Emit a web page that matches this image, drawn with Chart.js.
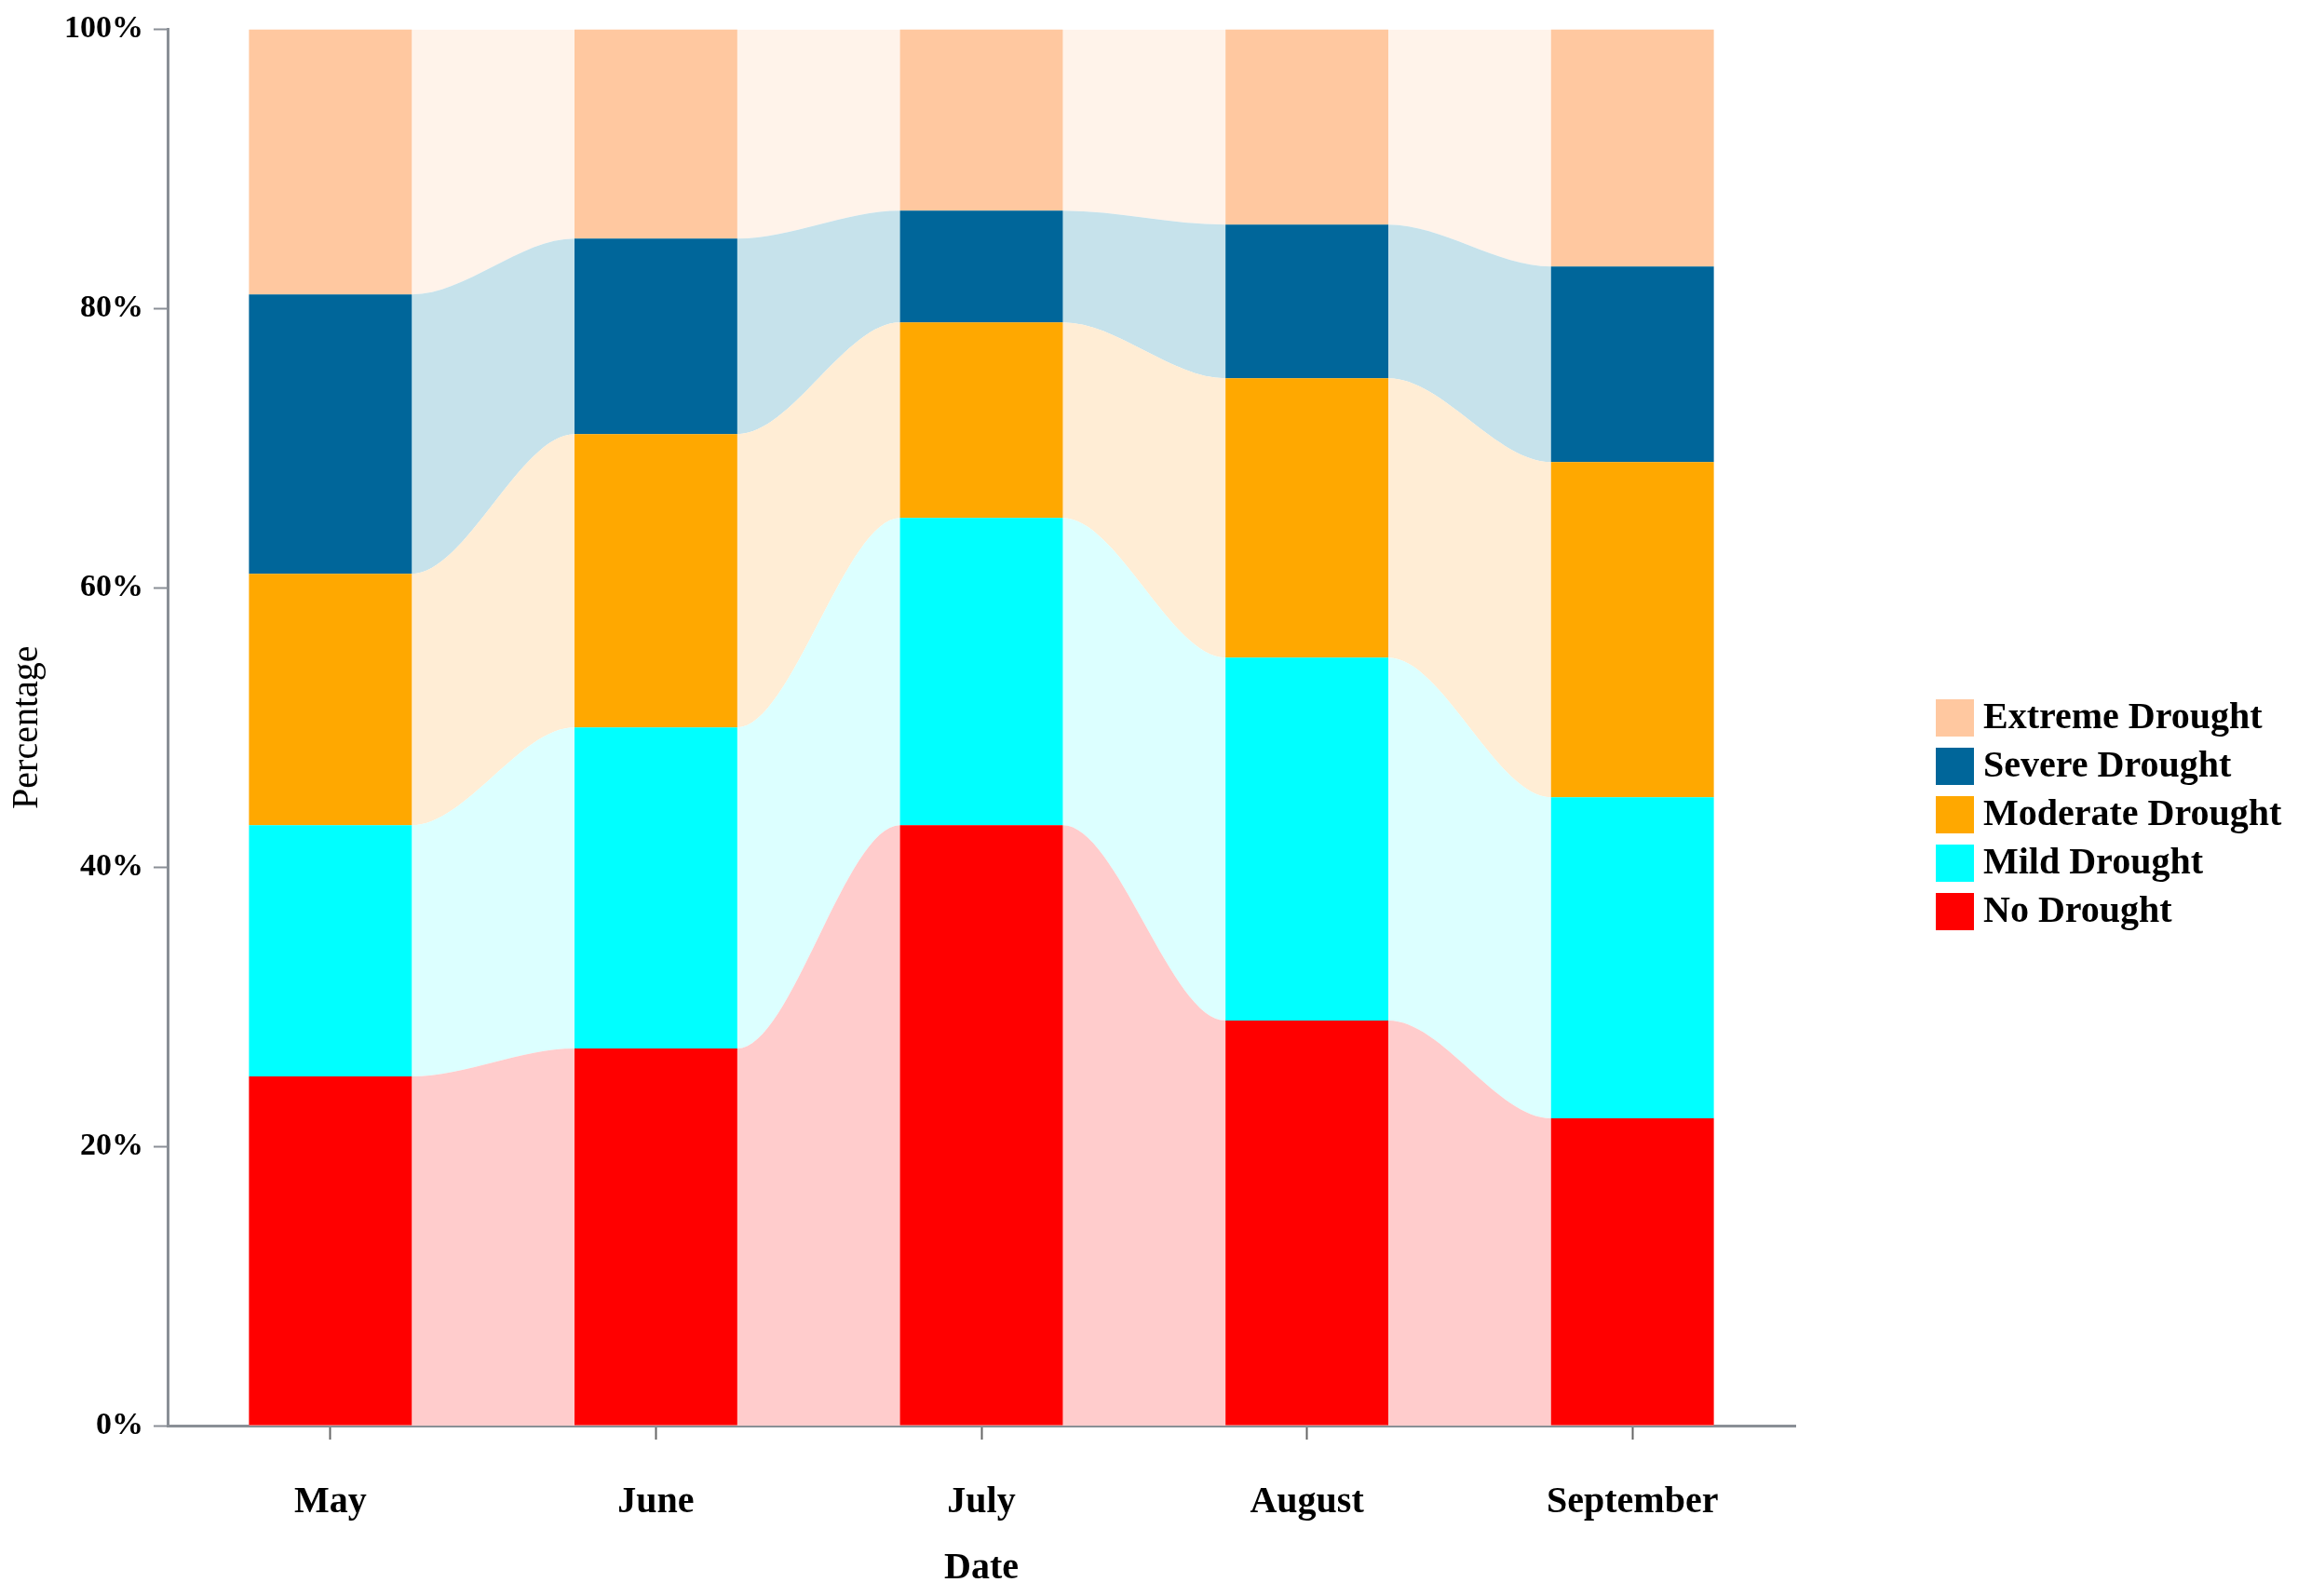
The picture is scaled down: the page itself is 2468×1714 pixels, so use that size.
<!DOCTYPE html>
<html><head><meta charset="utf-8">
<script src="https://cdn.jsdelivr.net/npm/chart.js@4"></script>
<style>html,body{margin:0;padding:0;background:#fff;}canvas{display:block;}</style>
</head><body>
<canvas id="c" width="2468" height="1714"></canvas>
<script>
// ---- data ----
const months = ['May', 'June', 'July', 'August', 'September'];
const seriesNames = ['No Drought', 'Mild Drought', 'Moderate Drought', 'Severe Drought', 'Extreme Drought'];
const noDrought = [25, 27, 43, 29, 22];
const mildDrought = [18, 23, 22, 26, 23];
const moderateDrought = [18, 21, 14, 20, 24];
const severeDrought = [20, 14, 8, 11, 14];
const extremeDrought = [19, 15, 13, 14, 17];
const yTickValues = [0, 20, 40, 60, 80, 100];

// ---- styles ----
const barColors = ['#FF0000', '#00FFFF', '#FFA800', '#00669A', '#FFC8A0'];
const bandColors = ['#FFCCCC', '#DCFFFF', '#FFEDD5', '#C6E2EB', '#FFF3EA'];
const serif = '"Liberation Serif", "Times New Roman", serif';

const allSeries = [noDrought, mildDrought, moderateDrought, severeDrought, extremeDrought];

// cumulative tops for the flow bands
const cumulative = [];
allSeries.forEach((s, k) => {
  cumulative.push(s.map((v, i) => v + (k > 0 ? cumulative[k - 1][i] : 0)));
});

const barDatasets = allSeries.map((s, k) => ({
  type: 'bar',
  label: seriesNames[k],
  data: s,
  backgroundColor: barColors[k],
  borderWidth: 0,
  barPercentage: 1.0,
  categoryPercentage: 0.5,
  grouped: false,
  stack: 'drought',
  xAxisID: 'x',
  yAxisID: 'y',
  order: 0
}));

const bandDatasets = cumulative.map((c, k) => {
  const pts = [];
  c.forEach((v, i) => { pts.push({ x: i - 0.25, y: v }); pts.push({ x: i + 0.25, y: v }); });
  return {
    type: 'line',
    label: seriesNames[k] + ' band',
    data: pts,
    backgroundColor: bandColors[k],
    borderWidth: 0,
    borderColor: 'rgba(0,0,0,0)',
    pointRadius: 0,
    cubicInterpolationMode: 'monotone',
    fill: k === 0 ? 'origin' : (barDatasets.length + k - 1),
    xAxisID: 'x2',
    yAxisID: 'y2',
    order: 1
  };
});

const legendPlugin = {
  id: 'sideLegend',
  afterDraw(chart) {
    const ctx = chart.ctx;
    const area = chart.chartArea;
    const boxX = area.right + 151, boxW = 41, boxH = 40, top = 751, step = 52;
    ctx.save();
    ctx.font = 'bold 40px ' + serif;
    ctx.textBaseline = 'middle';
    ctx.textAlign = 'left';
    for (let j = 0; j < seriesNames.length; j++) {
      const k = seriesNames.length - 1 - j;
      const y = top + step * j;
      ctx.fillStyle = barColors[k];
      ctx.fillRect(boxX, y, boxW, boxH);
      ctx.fillStyle = '#000';
      ctx.fillText(seriesNames[k], boxX + 51, y + boxH / 2 + 1);
    }
    ctx.restore();
  }
};

new Chart(document.getElementById('c'), {
  type: 'bar',
  data: { labels: months, datasets: [...barDatasets, ...bandDatasets] },
  options: {
    responsive: false,
    devicePixelRatio: 1,
    animation: false,
    layout: { padding: { top: 30, right: 540, bottom: 5, left: 0 } },
    plugins: { legend: { display: false }, tooltip: { enabled: false } },
    scales: {
      x: {
        type: 'category',
        position: 'bottom',
        stacked: true,
        offset: true,
        grid: { display: true, drawOnChartArea: false, offset: false, tickLength: 15, tickColor: '#666', tickWidth: 2 },
        border: { display: true, color: '#8A8F96', width: 3 },
        ticks: { color: '#000', padding: 44, font: { family: serif, size: 40, weight: 'bold' } },
        title: { display: true, text: 'Date', color: '#000', padding: { top: 23, bottom: 0 }, font: { family: serif, size: 40, weight: 'bold' } },
        afterFit(s) { s.height = 1714 - 5 - 1531; }
      },
      y: {
        stacked: true,
        min: 0, max: 100,
        afterBuildTicks(s) { s.ticks = yTickValues.map(v => ({ value: v })); },
        grid: { display: true, drawOnChartArea: false, tickLength: 15, tickColor: '#8A8F96', tickWidth: 2 },
        border: { display: true, color: '#8A8F96', width: 3 },
        ticks: { color: '#000', padding: 11, font: { family: serif, size: 34, weight: 'bold' }, callback: v => v + '%' },
        title: { display: true, text: 'Percentage', color: '#000', padding: { top: 5, bottom: 0 }, font: { family: serif, size: 40, weight: 'normal' } },
        afterFit(s) { s.width = 180; }
      },
      x2: { type: 'linear', display: false, offset: false, min: -0.5, max: 4.5, grid: { offset: false } },
      y2: { type: 'linear', display: false, stacked: false, min: 0, max: 100 }
    }
  },
  plugins: [legendPlugin]
});
</script>
</body></html>
